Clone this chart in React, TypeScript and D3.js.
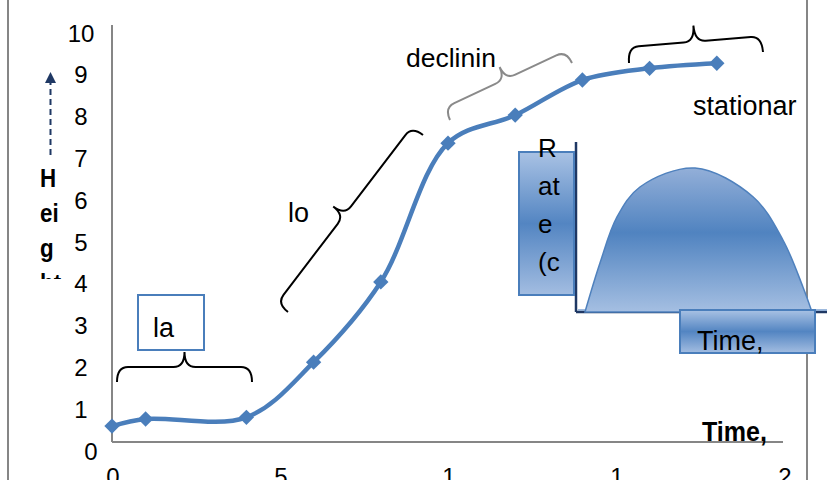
import React from "react";
import * as d3 from "d3";

// Main growth curve data (time, height)
const timeValues = [0, 1, 4, 6, 8, 10, 12, 14, 16, 18];
const heightValues = [0.38, 0.55, 0.59, 1.91, 3.83, 7.15, 7.82, 8.66, 8.94, 9.06];
const yTicks = [0, 1, 2, 3, 4, 5, 6, 7, 8, 9, 10];
const xTicks = [0, 5, 10, 15, 20];
const xTickLabels = ["0", "5", "1", "1", "2"];
const yTitleLines = ["H", "ei", "g", "ht"];
const rateTitleLines = ["R", "at", "e", "(c"];

// Inset rate curve (normalised time, normalised rate)
const insetT = [0, 0.066, 0.141, 0.242, 0.485, 0.74, 0.872, 0.96, 1];
const insetRate = [0, 0.34, 0.66, 0.868, 1, 0.8, 0.5, 0.174, 0];

const W = 827;
const H = 484;
const FONT = "'Liberation Sans', Arial, sans-serif";
const BLUE = "#4a7ebb";

function brace(ax: number, ay: number, bx: number, by: number, h: number, r = 11) {
  const L = Math.hypot(bx - ax, by - ay);
  const ux = (bx - ax) / L;
  const uy = (by - ay) / L;
  const nx = uy;
  const ny = -ux;
  const P = (t: number, o: number) =>
    `${(ax + ux * t + nx * o).toFixed(1)},${(ay + uy * t + ny * o).toFixed(1)}`;
  const m = L / 2;
  return (
    `M${P(0, 0)} Q${P(0, h)} ${P(r, h)} L${P(m - r, h)} Q${P(m, h)} ${P(m, 2 * h)} ` +
    `Q${P(m, h)} ${P(m + r, h)} L${P(L - r, h)} Q${P(L, h)} ${P(L, 0)}`
  );
}

export default function App() {
  const x = d3.scaleLinear().domain([0, 20]).range([112, 784]);
  const y = d3.scaleLinear().domain([0, 10]).range([442, 24]);

  const line = d3
    .line<number>()
    .x((_, i) => x(timeValues[i]))
    .y((d) => y(d))
    .curve(d3.curveCatmullRom.alpha(0.5));

  const diamond = d3.symbol().type(d3.symbolDiamond2).size(150)();

  const ix = d3.scaleLinear().domain([0, 1]).range([585, 812]);
  const iy = d3.scaleLinear().domain([0, 1]).range([312, 168]);
  const bell = d3
    .area<number>()
    .x((_, i) => ix(insetT[i]))
    .y0(iy(0))
    .y1((d) => iy(d))
    .curve(d3.curveCatmullRom.alpha(0.5));

  const sx = 0.86;

  return (
    <svg
      width={W}
      height={H}
      style={{ position: "absolute", left: 0, top: 0, background: "#fff" }}
      fontFamily={FONT}
    >
      <defs>
        <clipPath id="chartClip">
          <rect x={0} y={0} width={W} height={480} />
        </clipPath>
        <clipPath id="yTitleClip">
          <rect x={0} y={150} width={100} height={129} />
        </clipPath>
        <linearGradient id="boxGrad" x1="0" y1="0" x2="0" y2="1">
          <stop offset="0%" stopColor="#a9c2e4" />
          <stop offset="50%" stopColor="#5385c2" />
          <stop offset="100%" stopColor="#a3bde1" />
        </linearGradient>
        <linearGradient id="bellGrad" x1="0" y1="0" x2="0" y2="1">
          <stop offset="0%" stopColor="#93afd8" />
          <stop offset="45%" stopColor="#5083c0" />
          <stop offset="100%" stopColor="#a5bfe2" />
        </linearGradient>
        <marker
          id="arrowHead"
          viewBox="0 0 10 10"
          refX="0"
          refY="5"
          markerUnits="userSpaceOnUse"
          markerWidth="12"
          markerHeight="11"
          orient="auto"
        >
          <path d="M0,0 L10,5 L0,10 Z" fill="#1f3864" />
        </marker>
      </defs>

      <g clipPath="url(#chartClip)">
        {/* outer frame */}
        <path d="M8,-2 V481 H807 V-2" fill="none" stroke="#868686" strokeWidth={2} />

        {/* axes */}
        <line x1={x(0)} x2={x(0)} y1={25} y2={y(0)} stroke="#868686" strokeWidth={2} />
        <line x1={x(0)} x2={x(20) - 1} y1={y(0)} y2={y(0)} stroke="#868686" strokeWidth={2} />

        {/* y tick labels */}
        {yTicks.map((v) => (
          <text
            key={v}
            x={v === 0 ? 91 : 81}
            y={y(v) + 17.5}
            textAnchor="middle"
            fontSize={24}
            fill="#000"
          >
            {v}
          </text>
        ))}

        {/* x tick labels (clipped at the chart's lower edge, as in the source) */}
        {xTicks.map((v, i) => (
          <text key={v} x={x(v) + 1} y={485} textAnchor="middle" fontSize={24} fill="#000">
            {xTickLabels[i]}
          </text>
        ))}
      </g>

      {/* axis titles */}
      <text
        x={702}
        y={441}
        fontSize={27}
        fontWeight="bold"
        fill="#000"
        textLength={65}
        lengthAdjust="spacingAndGlyphs"
      >
        Time,
      </text>
      <g clipPath="url(#yTitleClip)">
        <g transform={`scale(${sx},1)`}>
          {yTitleLines.map((t, i) => (
            <text key={i} x={40 / sx} y={187 + i * 35} fontSize={26} fontWeight="bold" fill="#000">
              {t}
            </text>
          ))}
        </g>
      </g>
      <line
        x1={50.5}
        y1={155}
        x2={50.5}
        y2={83}
        stroke="#1f3864"
        strokeWidth={2}
        strokeDasharray="6,4"
        markerEnd="url(#arrowHead)"
      />

      {/* growth curve */}
      <path d={line(heightValues) || ""} fill="none" stroke={BLUE} strokeWidth={4.5} />
      {heightValues.map((v, i) => (
        <path key={i} d={diamond || ""} transform={`translate(${x(timeValues[i])},${y(v)})`} fill={BLUE} />
      ))}

      {/* phase annotations */}
      <rect x={138} y={295} width={66} height={55} fill="#fff" stroke={BLUE} strokeWidth={2} />
      <text x={153} y={337} fontSize={27} fill="#000">la</text>
      <path d={brace(117, 382, 252, 382, 15)} fill="none" stroke="#000" strokeWidth={2} />

      <text x={288} y={222} fontSize={27} fill="#000">lo</text>
      <path d={brace(288, 312, 423, 135, 14)} fill="none" stroke="#000" strokeWidth={2} />

      <text x={406} y={67} fontSize={26.5} fill="#000">declinin</text>
      <path d={brace(450, 120, 572, 63, 13.5)} fill="none" stroke="#8a8a8a" strokeWidth={2} />

      <text x={693} y={115} fontSize={27} fill="#000">stationar</text>
      <path d={brace(629, 63, 763, 52, 16)} fill="none" stroke="#000" strokeWidth={2} />

      {/* inset rate diagram */}
      <line x1={576} y1={142} x2={576} y2={312} stroke="#1f3864" strokeWidth={2.5} />
      <line x1={576} y1={312} x2={827} y2={312} stroke="#1f3864" strokeWidth={2.5} />
      <line x1={578} y1={310} x2={827} y2={310} stroke="#7ea3d3" strokeWidth={1.5} />
      <path d={bell(insetRate) || ""} fill="url(#bellGrad)" stroke="#4f81bd" strokeWidth={1.5} />
      <rect x={519} y={152} width={55} height={143} fill="url(#boxGrad)" stroke={BLUE} strokeWidth={2} />
      {rateTitleLines.map((t, i) => (
        <text key={i} x={538} y={157 + i * 38} fontSize={26} fill="#000">
          {t}
        </text>
      ))}
      <rect x={680} y={310} width={135} height={43} fill="url(#boxGrad)" stroke={BLUE} strokeWidth={2} />
      <text x={697} y={350} fontSize={27} fill="#000">Time,</text>
    </svg>
  );
}
